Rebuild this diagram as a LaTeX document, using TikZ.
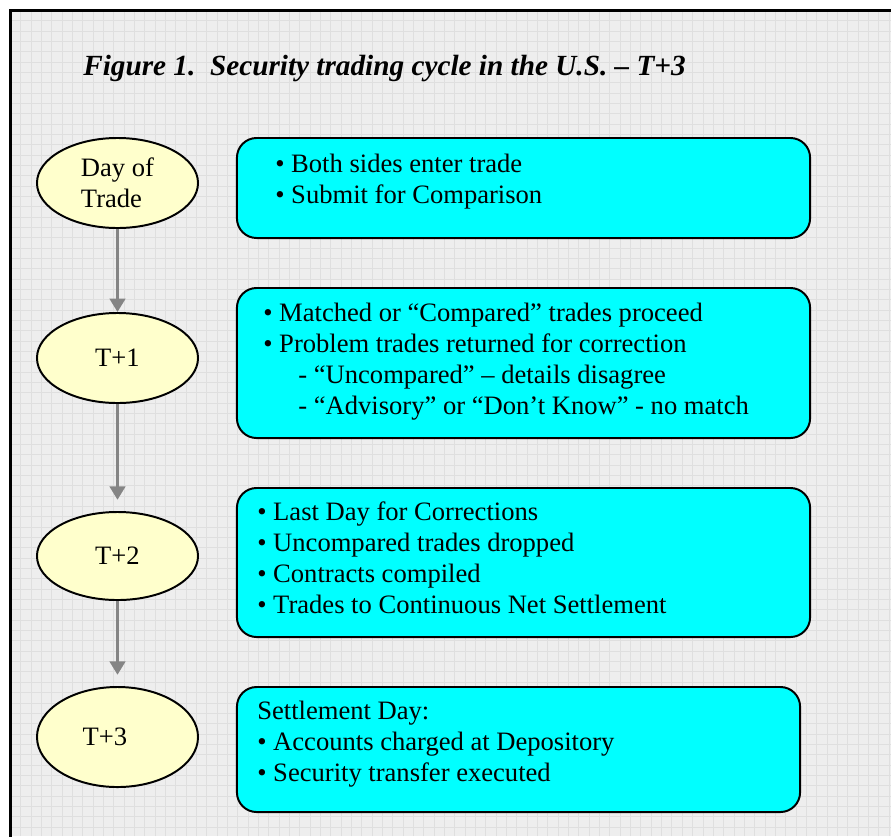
\documentclass[tikz,border=0pt]{standalone}
\usepackage{fontspec}
\setmainfont{Liberation Serif}
\usepackage{tikz}
\usetikzlibrary{arrows.meta,shapes.geometric}
\definecolor{paper}{HTML}{EEEEEE}
\definecolor{gridgray}{HTML}{DFDFDF}
\definecolor{dayyellow}{HTML}{FFFFCC}
\definecolor{stepcyan}{HTML}{00FFFF}
\definecolor{arrowgray}{HTML}{858585}
\newcommand{\bodyfont}{\fontsize{18.9}{22}\selectfont}
\newcommand{\titlefont}{\fontsize{20.8}{25}\selectfont\bfseries\itshape}
\tikzset{
  dayoval/.style={ellipse,draw=black,line width=1.4pt,fill=dayyellow,minimum width=4.025cm,minimum height=2.25cm,inner sep=0pt,align=left,font=\bodyfont},
  stepbox/.style={rectangle,rounded corners=14pt,draw=black,line width=1.4pt,fill=stepcyan,minimum width=14.325cm},
  boxtext/.style={anchor=base west,inner sep=0pt,align=left,font=\bodyfont},
  flowarrow/.style={-{Triangle[length=9.5pt,width=11pt]},line width=2pt,draw=arrowgray}
}

\begin{document}
\begin{tikzpicture}[x=0.025cm,y=-0.025cm]
  \useasboundingbox (0,0) rectangle (891,836);
  \clip (0,0) rectangle (891,836);
  % paper and frame
  \fill[white] (0,0) rectangle (891,836);
  \fill[paper] (10,10) rectangle (891,836);
  \draw[gridgray,line width=0.5pt,step=0.25833cm] (10,10) grid (891,836);
  \draw[black,line width=2.2pt] (10.5,840) -- (10.5,10.5) -- (895,10.5);

  \node[anchor=base west,inner sep=0pt,font=\titlefont] (title) at (83,75)
    {Figure 1.\hspace{.5em}Security trading cycle in the U.S. -- T+3};

  % days
  \node[dayoval] (d0) at (117.5,183) {Day of\\Trade};
  \node[dayoval] (d1) at (117.5,358) {T+1};
  \node[dayoval, minimum height=2.2cm] (d2) at (117.5,556) {T+2};
  \node[dayoval, minimum height=2.5cm] (d3) at (117.5,737) {T+3\hspace*{18pt}};

  \draw[flowarrow] (d0) -- (d1);
  \draw[flowarrow, shorten >=8pt] (d1) -- (d2);
  \draw[flowarrow, shorten >=8pt] (d2) -- (d3);

  % what happens on each day (base = last line)
  \node[stepbox, minimum height=2.5cm] (b0) at (523.5,188) {};
  \node[stepbox, minimum height=3.75cm] (b1) at (523.5,363) {};
  \node[stepbox, minimum height=3.725cm] (b2) at (523.5,562.5) {};
  \node[stepbox, minimum width=14.075cm, minimum height=3.125cm] (b3) at (518.5,749.5) {};

  \node[boxtext] (s0) at (275,203)
    {• Both sides enter trade\\• Submit for Comparison};
  \node[boxtext] (s1) at (263,414)
    {• Matched or “Compared” trades proceed\\• Problem trades returned for correction\\
     \hspace*{25pt}- “Uncompared” – details disagree\\
     \hspace*{25pt}- “Advisory” or “Don’t Know” - no match};
  \node[boxtext] (s2) at (257,613)
    {• Last Day for Corrections\\• Uncompared trades dropped\\• Contracts compiled\\
     • Trades to Continuous Net Settlement};
  \node[boxtext] (s3) at (257,781)
    {Settlement Day:\\• Accounts charged at Depository\\• Security transfer executed};
\end{tikzpicture}
\end{document}
